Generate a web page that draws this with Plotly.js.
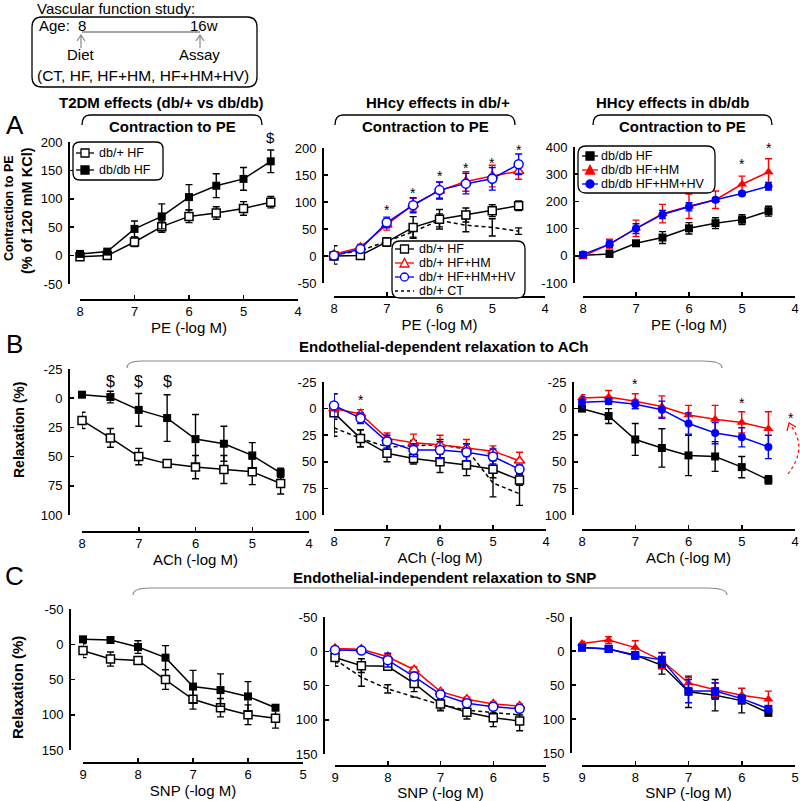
<!DOCTYPE html>
<html><head><meta charset="utf-8">
<script src="https://cdn.plot.ly/plotly-3.0.1.min.js"></script>
<style>body{margin:0;background:#fff}</style>
</head><body><div id="chart" style="width:800px;height:801px"></div>
<script>
// ---------------- DATA ----------------
const peX  = [8, 7.5, 7, 6.5, 6, 5.5, 5, 4.5];
const achX = [8, 7.5, 7, 6.5, 6, 5.5, 5, 4.5];
const snpX = [9, 8.5, 8, 7.5, 7, 6.5, 6, 5.5];
const tickPE = [8, 7, 6, 5, 4];
const tickSNP = [9, 8, 7, 6, 5];

// A1 T2DM effects, contraction to PE
const a1_dbpHF      = [-2, 0, 24, 51, 69, 75, 83, 94];
const a1_dbpHF_err  = [3, 3, 8, 10, 11, 11, 12, 10];
const a1_dbdbHF     = [3, 7, 47, 69, 103, 123, 135, 166];
const a1_dbdbHF_err = [3, 3, 14, 22, 22, 21, 20, 20];
// A2 HHcy effects in db/+
const a2_HF     = [0, 1, 26, 53, 68, 76, 84, 93];
const a2_HF_err = [4, 3, 8, 20, 18, 13, 11, 9];
const a2_HM     = [3, 16, 58, 95, 121, 138, 148, 157];
const a2_HM_err = [4, 6, 10, 12, 16, 18, 20, 15];
const a2_HV     = [1, 13, 62, 94, 122, 134, 143, 170];
const a2_HV_err = [4, 5, 10, 14, 15, 19, 21, 19];
const a2_CT     = [2, 10, 27, 45, 66, 57, 53, 46];
const a2_CT_err = [17, 5, 6, 10, 12, 12, 16, 6];
const a2_starX  = [7, 6.5, 6, 5.5, 5, 4.5];
const a2_starY  = [85, 117, 148, 163, 173, 196];
// A3 HHcy effects in db/db
const a3_HF     = [2, 7, 46, 67, 101, 120, 133, 164];
const a3_HF_err = [5, 5, 8, 22, 21, 20, 18, 18];
const a3_HM     = [-2, 43, 101, 155, 182, 206, 263, 308];
const a3_HM_err = [6, 18, 30, 34, 45, 32, 30, 49];
const a3_HV     = [5, 43, 100, 152, 180, 206, 229, 256];
const a3_HV_err = [5, 12, 18, 15, 15, 8, 6, 14];
const a3_starX  = [5, 4.5];
const a3_starY  = [338, 395];
// B1 ACh
const b1_dbdbHF     = [-3, -1, 10, 17, 35, 39, 49, 64];
const b1_dbdbHF_err = [2, 5, 14, 20, 21, 15, 11, 4];
const b1_dbpHF      = [19, 34, 50, 56, 59, 61, 63, 73];
const b1_dbpHF_err  = [7, 8, 7, 2, 10, 12, 11, 9];
const b1_dolX = [7.5, 7, 6.5];
const b1_dolY = [-14, -14, -14];
// B2
const b2_HF     = [4, 28, 42, 47, 50, 53, 57, 67];
const b2_HF_err = [18, 8, 8, 5, 10, 10, 8, 5];
const b2_HM     = [0, 5, 28, 32, 34, 37, 40, 49];
const b2_HM_err = [3, 4, 5, 8, 9, 8, 5, 8];
const b2_HV     = [-3, 9, 31, 39, 39, 41, 45, 57];
const b2_HV_err = [11, 5, 6, 6, 8, 8, 7, 4];
const b2_CT     = [18, 28, 36, 35, 34, 38, 70, 80];
const b2_CT_err = [8, 8, 5, 5, 5, 5, 13, 11];
const b2_starX = [7.5];
const b2_starY = [-8];
// B3
const b3_HF     = [0, 7, 29, 37, 44, 45, 55, 67];
const b3_HF_err = [2, 7, 15, 18, 19, 14, 10, 4];
const b3_HM     = [-10, -11, -7, -2, 6, 10, 13, 19];
const b3_HM_err = [3, 6, 7, 10, 9, 13, 10, 16];
const b3_HV     = [-6, -7, -4, 1, 14, 23, 27, 36];
const b3_HV_err = [5, 3, 4, 8, 10, 10, 9, 11];
const b3_starX = [7, 5];
const b3_starY = [-23, -5];
// C1 SNP
const c1_dbdbHF     = [-7, -6, 4, 19, 60, 65, 74, 90];
const c1_dbdbHF_err = [2, 2, 9, 17, 23, 23, 21, 3];
const c1_dbpHF      = [9, 21, 23, 50, 78, 90, 100, 105];
const c1_dbpHF_err  = [10, 10, 5, 14, 14, 13, 14, 14];
// C2
const c2_HF     = [9, 21, 22, 47, 77, 89, 97, 102];
const c2_HF_err = [8, 10, 5, 12, 10, 10, 13, 14];
const c2_HM     = [-4, -3, 8, 27, 59, 70, 77, 80];
const c2_HM_err = [3, 2, 3, 4, 3, 3, 3, 3];
const c2_HV     = [-2, -1, 13, 37, 63, 76, 81, 84];
const c2_HV_err = [3, 2, 10, 5, 4, 4, 3, 3];
const c2_CT     = [12, 38, 55, 67, 78, 86, 90, 93];
const c2_CT_err = [10, 13, 6, 0, 8, 0, 0, 0];
// C3
const c3_HF     = [-5, -3, 6, 21, 60, 65, 73, 91];
const c3_HF_err = [3, 3, 5, 13, 23, 23, 18, 3];
const c3_HM     = [-11, -16, -5, 14, 47, 57, 65, 71];
const c3_HM_err = [3, 5, 10, 12, 8, 10, 10, 12];
const c3_HV     = [-5, -3, 7, 13, 59, 59, 70, 85];
const c3_HV_err = [3, 5, 5, 10, 17, 12, 5, 3];

// ---------------- HELPERS ----------------
const W = 800, H = 801;
const F = 'Liberation Sans, Arial, sans-serif';
const px = x => x / W, py = y => 1 - y / H;
const annotations = [], shapes = [];
function txt(t, x, y, size, o) {
  o = o || {};
  const a = {text: t, x: px(x), y: py(y), xref: 'paper', yref: 'paper', showarrow: false,
    xanchor: o.xa || 'center', yanchor: 'middle', textangle: o.angle || 0,
    font: {family: F, size: size, color: o.color || '#000'}};
  if (o.h) { a.height = o.h; a.borderpad = 0; a.valign = 'middle'; }
  annotations.push(a);
}
function pp(s) {
  return s.replace(/(-?\d+\.?\d*),(-?\d+\.?\d*)/g, (m, a, b) => px(+a).toFixed(5) + ',' + py(+b).toFixed(5));
}
function path(s, color, width, dash, fill) {
  shapes.push({type: 'path', path: pp(s), xref: 'paper', yref: 'paper',
    line: {color: color, width: width, dash: dash || 'solid'}, fillcolor: fill || 'rgba(0,0,0,0)', layer: 'above'});
}
function rrect(x0, y0, x1, y1, r, color, width) {
  path(`M${x0 + r},${y0} L${x1 - r},${y0} Q${x1},${y0} ${x1},${y0 + r} L${x1},${y1 - r} Q${x1},${y1} ${x1 - r},${y1} L${x0 + r},${y1} Q${x0},${y1} ${x0},${y1 - r} L${x0},${y0 + r} Q${x0},${y0} ${x0 + r},${y0} Z`, color, width, 'solid', '#fff');
}
function legMarker(kind, cx, cy, color, fill) {
  const s = 4;
  if (kind === 'sq') {
    shapes.push({type: 'rect', xref: 'paper', yref: 'paper', x0: px(cx - s), x1: px(cx + s), y0: py(cy + s), y1: py(cy - s), fillcolor: fill, line: {color: color, width: 1.3}, layer: 'above'});
  } else if (kind === 'ci') {
    shapes.push({type: 'circle', xref: 'paper', yref: 'paper', x0: px(cx - s), x1: px(cx + s), y0: py(cy + s), y1: py(cy - s), fillcolor: fill, line: {color: color, width: 1.3}, layer: 'above'});
  } else if (kind === 'tr') {
    path(`M${cx - 4.5},${cy + 4} L${cx + 4.5},${cy + 4} L${cx},${cy - 4.5} Z`, color, 1.3, 'solid', fill);
  }
}
function legEntry(x0, x1, y, tx, label, color, kind, fill, dash) {
  path(`M${x0},${y} L${x1},${y}`, color, 1.3, dash);
  if (kind) legMarker(kind, (x0 + x1) / 2, y, color, fill);
  txt(label, tx, y, 12.5, {xa: 'left', h: 13.5});
}

// ---------------- TRACES ----------------
const BK = '#000', RD = '#ff0000', BL = '#0000ff';
const ST = {
  openSq:   {color: BK, marker: {symbol: 'square', size: 8, color: '#fff', line: {color: BK, width: 1.5}}},
  fillSq:   {color: BK, marker: {symbol: 'square', size: 8, color: BK}},
  openTri:  {color: RD, marker: {symbol: 'triangle-up', size: 9, color: '#fff', line: {color: RD, width: 1.5}}},
  openCirc: {color: BL, marker: {symbol: 'circle', size: 9, color: '#fff', line: {color: BL, width: 1.5}}},
  fillTri:  {color: RD, marker: {symbol: 'triangle-up', size: 9, color: RD}},
  fillCirc: {color: BL, marker: {symbol: 'circle', size: 8, color: BL}},
  fillSqBl: {color: BL, marker: {symbol: 'square', size: 8, color: BL}},
  ct:       {color: BK, dash: '4px,3px'}
};
const traces = [];
function tr(i, x, y, err, st, name) {
  const sfx = i === 1 ? '' : String(i);
  const t = {type: 'scatter', name: name, mode: st.marker ? 'lines+markers' : 'lines', x: x, y: y,
    xaxis: 'x' + sfx, yaxis: 'y' + sfx, showlegend: false, cliponaxis: false,
    line: {color: st.color, width: 1.5, dash: st.dash || 'solid'},
    error_y: {type: 'data', array: err, visible: true, color: st.color, thickness: 1.4, width: 3.5}};
  if (st.marker) t.marker = st.marker;
  traces.push(t);
}
tr(1, peX, a1_dbpHF, a1_dbpHF_err, ST.openSq, 'db/+ HF');
tr(1, peX, a1_dbdbHF, a1_dbdbHF_err, ST.fillSq, 'db/db HF');
tr(2, peX, a2_CT, a2_CT_err, ST.ct, 'db/+ CT');
tr(2, peX, a2_HF, a2_HF_err, ST.openSq, 'db/+ HF');
tr(2, peX, a2_HM, a2_HM_err, ST.openTri, 'db/+ HF+HM');
tr(2, peX, a2_HV, a2_HV_err, ST.openCirc, 'db/+ HF+HM+HV');
tr(3, peX, a3_HF, a3_HF_err, ST.fillSq, 'db/db HF');
tr(3, peX, a3_HM, a3_HM_err, ST.fillTri, 'db/db HF+HM');
tr(3, peX, a3_HV, a3_HV_err, ST.fillCirc, 'db/db HF+HM+HV');
tr(4, achX, b1_dbpHF, b1_dbpHF_err, ST.openSq, 'db/+ HF');
tr(4, achX, b1_dbdbHF, b1_dbdbHF_err, ST.fillSq, 'db/db HF');
tr(5, achX, b2_CT, b2_CT_err, ST.ct, 'db/+ CT');
tr(5, achX, b2_HF, b2_HF_err, ST.openSq, 'db/+ HF');
tr(5, achX, b2_HM, b2_HM_err, ST.openTri, 'db/+ HF+HM');
tr(5, achX, b2_HV, b2_HV_err, ST.openCirc, 'db/+ HF+HM+HV');
tr(6, achX, b3_HF, b3_HF_err, ST.fillSq, 'db/db HF');
tr(6, achX, b3_HM, b3_HM_err, ST.fillTri, 'db/db HF+HM');
tr(6, achX, b3_HV, b3_HV_err, ST.fillCirc, 'db/db HF+HM+HV');
tr(7, snpX, c1_dbpHF, c1_dbpHF_err, ST.openSq, 'db/+ HF');
tr(7, snpX, c1_dbdbHF, c1_dbdbHF_err, ST.fillSq, 'db/db HF');
tr(8, snpX, c2_CT, c2_CT_err, ST.ct, 'db/+ CT');
tr(8, snpX, c2_HF, c2_HF_err, ST.openSq, 'db/+ HF');
tr(8, snpX, c2_HM, c2_HM_err, ST.openTri, 'db/+ HF+HM');
tr(8, snpX, c2_HV, c2_HV_err, ST.openCirc, 'db/+ HF+HM+HV');
tr(9, snpX, c3_HF, c3_HF_err, ST.fillSq, 'db/db HF');
tr(9, snpX, c3_HM, c3_HM_err, ST.fillTri, 'db/db HF+HM');
tr(9, snpX, c3_HV, c3_HV_err, ST.fillSqBl, 'db/db HF+HM+HV');

// ---------------- AXES ----------------
const panels = [
  {xd: [80, 298], xl: 299, yd: [142, 284], yl: 68, xr: [8, 4], xt: tickPE, yr: [-50, 200], yt: [-50, 0, 50, 100, 150, 200], xtitle: 'PE (-log M)'},
  {xd: [334, 545], xl: 296, yd: [148, 283], yl: 322, xr: [8, 4], xt: tickPE, yr: [-50, 200], yt: [-50, 0, 50, 100, 150, 200], xtitle: 'PE (-log M)'},
  {xd: [583, 795], xl: 296, yd: [147, 283], yl: 573, xr: [8, 4], xt: tickPE, yr: [-100, 400], yt: [-100, 0, 100, 200, 300, 400], xtitle: 'PE (-log M)'},
  {xd: [82, 309], xl: 531, yd: [369, 515], yl: 68, xr: [8, 4], xt: tickPE, yr: [100, -25], yt: [-25, 0, 25, 50, 75, 100], xtitle: 'ACh (-log M)'},
  {xd: [334, 546], xl: 529, yd: [382, 515], yl: 322, xr: [8, 4], xt: tickPE, yr: [100, -25], yt: [-25, 0, 25, 50, 75, 100], xtitle: 'ACh (-log M)'},
  {xd: [582, 795], xl: 529, yd: [382, 515], yl: 572, xr: [8, 4], xt: tickPE, yr: [100, -25], yt: [-25, 0, 25, 50, 75, 100], xtitle: 'ACh (-log M)'},
  {xd: [83, 303], xl: 762, yd: [609, 750], yl: 69, xr: [9, 5], xt: tickSNP, yr: [150, -50], yt: [-50, 0, 50, 100, 150], xtitle: 'SNP (-log M)'},
  {xd: [335, 546], xl: 765, yd: [617, 754], yl: 323, xr: [9, 5], xt: tickSNP, yr: [150, -50], yt: [-50, 0, 50, 100, 150], xtitle: 'SNP (-log M)'},
  {xd: [582, 795], xl: 765, yd: [617, 753], yl: 570, xr: [9, 5], xt: tickSNP, yr: [150, -50], yt: [-50, 0, 50, 100, 150], xtitle: 'SNP (-log M)'}
];
const layout = {width: W, height: H, margin: {l: 0, r: 0, t: 0, b: 0}, paper_bgcolor: '#fff', plot_bgcolor: 'rgba(0,0,0,0)',
  showlegend: false, font: {family: F, color: '#000'}};
const common = {showline: true, linecolor: '#000', linewidth: 1.5, ticks: 'inside', ticklen: 4, tickwidth: 1.5,
  tickcolor: '#000', showgrid: false, zeroline: false, fixedrange: true, tickfont: {family: F, size: 13, color: '#000'}};
panels.forEach((p, k) => {
  const i = k + 1, sfx = i === 1 ? '' : String(i);
  layout['xaxis' + sfx] = Object.assign({}, common, {domain: [px(p.xd[0]), px(p.xd[1])], range: p.xr,
    tickmode: 'array', tickvals: p.xt, ticktext: p.xt.map(String),
    anchor: 'free', position: py(p.xl), title: {text: p.xtitle, font: {family: F, size: 15, color: '#000'}, standoff: 2}});
  layout['yaxis' + sfx] = Object.assign({}, common, {domain: [py(p.yd[1]), py(p.yd[0])], range: p.yr,
    tickmode: 'array', tickvals: p.yt, ticktext: p.yt.map(String),
    anchor: 'free', position: px(p.yl), ticklabelstandoff: 3});
});

// data-coordinate annotations ($ and * marks)
function mark(sym, i, xs, ys, size, shift) {
  const sfx = i === 1 ? '' : String(i);
  xs.forEach((x, j) => annotations.push({text: sym, x: x, y: ys[j], xref: 'x' + sfx, yref: 'y' + sfx, showarrow: false,
    xanchor: 'center', yanchor: 'middle', yshift: shift || 0, font: {family: F, size: size, color: '#000'}}));
}
mark('$', 1, [4.5], [200], 15, 5);
mark('*', 2, a2_starX, a2_starY, 14);
mark('*', 3, a3_starX, a3_starY, 14);
mark('$', 4, b1_dolX, b1_dolY, 16);
mark('*', 5, b2_starX, b2_starY, 14);
mark('*', 6, b3_starX, b3_starY, 14);

// ---------------- DECORATIONS ----------------
txt('Vascular function study:', 35, 8, 15, {xa: 'left'});
rrect(32, 17, 257, 87, 10, '#000', 1.3);
txt('Age:', 37, 26, 15, {xa: 'left'});
txt('8', 82, 26, 15);
txt('16w', 204, 26, 15);
path('M82,32 L200,32', '#888', 1.5);
path('M81,48 L81,35 M77,41 L81,35 L85,41', '#888', 1.2);
path('M200,48 L200,35 M196,41 L200,35 L204,41', '#888', 1.2);
txt('Diet', 81, 55, 15);
txt('Assay', 199, 55, 15);
txt('(CT, HF, HF+HM, HF+HM+HV)', 143, 75, 15.5);

txt('A', 15, 125, 26);
txt('B', 14, 344, 26);
txt('C', 14, 576, 26);

txt('<b>T2DM effects (db/+ vs db/db)</b>', 161, 103, 15);
txt('<b>HHcy effects in db/+</b>', 438, 103, 15);
txt('<b>HHcy effects in db/db</b>', 672, 103, 15);
[[82, 262], [335, 515], [593, 772]].forEach(b => {
  path(`M${b[0]},125 Q${b[0]},115 ${b[0] + 8},115 L${b[1] - 8},115 Q${b[1]},115 ${b[1]},125`, '#000', 1.3);
  txt('<b>Contraction to PE</b>', (b[0] + b[1]) / 2, 127, 15);
});
txt('<b>Endothelial-dependent relaxation to ACh</b>', 443, 347, 15);
path('M127,368 Q127,361 142,361 L703,361 Q722,361 722,368', '#888', 1.2);
txt('<b>Endothelial-independent relaxation to SNP</b>', 444, 577, 15);
path('M133,595 Q133,588 150,588 L707,588 Q727,588 727,595', '#888', 1.2);

txt('<b>Contraction to PE</b>', 9, 208, 12.5, {angle: -90});
txt('<b>(% of 120 mM KCl)</b>', 27, 211, 14.5, {angle: -90});
txt('<b>Relaxation (%)</b>', 19, 430, 14, {angle: -90});
txt('<b>Relaxation (%)</b>', 17, 688, 15, {angle: -90});

rrect(73, 142, 163, 180, 7, '#000', 1.3);
legEntry(76, 94, 153, 98, 'db/+ HF', BK, 'sq', '#fff');
legEntry(76, 94, 170, 98, 'db/db HF', BK, 'sq', BK);

rrect(392, 241, 525, 298, 8, '#000', 1.3);
legEntry(395, 414, 249, 418, 'db/+ HF', BK, 'sq', '#fff');
legEntry(395, 414, 263, 418, 'db/+ HF+HM', RD, 'tr', '#fff');
legEntry(395, 414, 277, 418, 'db/+ HF+HM+HV', BL, 'ci', '#fff');
legEntry(395, 414, 291, 418, 'db/+ CT', BK, null, null, '3px,3px');

rrect(578, 146, 715, 193, 8, '#000', 1.3);
legEntry(582, 598, 156, 600, 'db/db HF', BK, 'sq', BK);
legEntry(582, 598, 170, 600, 'db/db HF+HM', RD, 'tr', RD);
legEntry(582, 598, 184, 600, 'db/db HF+HM+HV', BL, 'ci', BL);

path('M788,474 Q808,448 791,426', RD, 1.2, '3px,3px');
path('M787,431 L789,423 L796,427', RD, 1.2);
txt('*', 791, 418, 14);

layout.annotations = annotations;
layout.shapes = shapes;
Plotly.newPlot('chart', traces, layout, {displayModeBar: false, staticPlot: true});
</script>
</body></html>
